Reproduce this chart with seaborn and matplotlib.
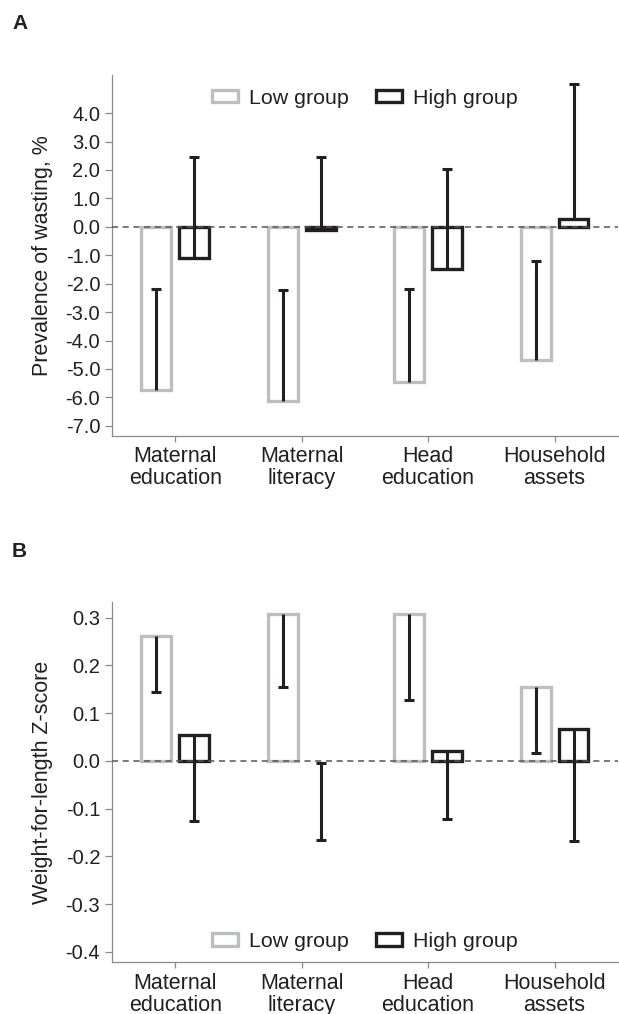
import matplotlib
matplotlib.use("Agg")
import matplotlib.pyplot as plt
from matplotlib.patches import Patch
from matplotlib.ticker import FormatStrFormatter
import pandas as pd
import seaborn as sns

# ---- data -------------------------------------------------------------
categories = ["Maternal\neducation", "Maternal\nliteracy",
              "Head\neducation", "Household\nassets"]
groups = ["Low group", "High group"]

# Panel A: prevalence of wasting, % (bar value and upper confidence limit)
wasting_low = [-5.75, -6.12, -5.45, -4.69]
wasting_high = [-1.10, -0.12, -1.50, 0.27]
wasting_low_ci = [-2.20, -2.23, -2.20, -1.21]
wasting_high_ci = [2.44, 2.46, 2.02, 5.01]
wasting_ticks = [-7.0, -6.0, -5.0, -4.0, -3.0, -2.0, -1.0,
                 0.0, 1.0, 2.0, 3.0, 4.0]

# Panel B: weight-for-length Z-score (bar value and lower confidence limit)
wlz_low = [0.262, 0.307, 0.307, 0.155]
wlz_high = [0.055, -0.004, 0.021, 0.066]
wlz_low_ci = [0.144, 0.154, 0.128, 0.017]
wlz_high_ci = [-0.126, -0.166, -0.122, -0.168]
wlz_ticks = [-0.4, -0.3, -0.2, -0.1, 0.0, 0.1, 0.2, 0.3]

# ---- style ------------------------------------------------------------
INK = "#231f20"
GREY_BAR = "#bcbec0"
AXIS_GREY = "#8a8a8a"
palette = {"Low group": GREY_BAR, "High group": INK}

sns.set_style("ticks")
plt.rcParams["font.family"] = ["Liberation Sans", "DejaVu Sans"]
plt.rcParams["axes.unicode_minus"] = False

fig = plt.figure(figsize=(6.19, 10.14), dpi=100)
ax_a = fig.add_axes([0.181, 0.5703, 0.817, 0.3557])
ax_b = fig.add_axes([0.181, 0.0510, 0.817, 0.3553])


def draw_panel(ax, low, high, low_ci, high_ci, ylim, ticks, ylabel, legend_y):
    df = pd.DataFrame({
        "category": categories * 2,
        "group": [groups[0]] * len(categories) + [groups[1]] * len(categories),
        "value": low + high,
    })
    sns.barplot(data=df, x="category", y="value", hue="group",
                order=categories, hue_order=groups, palette=palette,
                fill=False, width=0.6, gap=0.21, linewidth=2.4,
                errorbar=None, legend=False, ax=ax)

    ax.set_xlim(-0.5, len(categories) - 0.5)
    ax.set_ylim(*ylim)
    span = ylim[1] - ylim[0]

    # zero reference line
    ax.axhline(0, color="#555555", lw=1.1, ls=(0, (4, 3)), zorder=3)

    # one-sided confidence bars, starting at the bar end
    values = [v for pair in zip(low, high) for v in pair]
    limits = [c for pair in zip(low_ci, high_ci) for c in pair]
    bars = sorted(ax.patches, key=lambda p: p.get_x())
    for bar, v, c in zip(bars, values, limits):
        x = bar.get_x() + bar.get_width() / 2
        ax.vlines(x, v, c, color=INK, lw=2.2, zorder=4)
        ax.plot([x], [c], marker="_", ms=7.2, mew=2.2, color=INK, zorder=4)
        if abs(v) < 0.007 * span:
            # bar too short to render: show only the capped interval
            bar.set_linewidth(0)
            ax.plot([x], [v], marker="_", ms=7.2, mew=2.2, color=INK, zorder=4)

    ax.set_yticks(ticks)
    ax.yaxis.set_major_formatter(FormatStrFormatter("%.1f"))
    ax.set_xlabel("")
    ax.set_ylabel(ylabel, fontsize=15.5, color=INK, labelpad=9)

    for side in ("top", "right"):
        ax.spines[side].set_visible(False)
    for side in ("left", "bottom"):
        ax.spines[side].set_color(AXIS_GREY)
        ax.spines[side].set_linewidth(0.9)

    ax.tick_params(axis="y", color=AXIS_GREY, length=5, width=0.9,
                   labelcolor=INK, labelsize=14.5, pad=3.5)
    ax.tick_params(axis="x", color=AXIS_GREY, length=4.5, width=0.9,
                   labelcolor=INK, labelsize=15.5, pad=3)
    for lbl in ax.get_xticklabels():
        lbl.set_linespacing(1.05)
        lbl.set_multialignment("center")

    handles = [Patch(facecolor="white", edgecolor=palette[g], linewidth=2.4,
                     label=g) for g in groups]
    ax.legend(handles=handles, loc="center", bbox_to_anchor=(0.5, legend_y),
              ncol=2, frameon=False, fontsize=15.4, handlelength=1.2,
              handleheight=0.53, handletextpad=0.5, columnspacing=1.3,
              labelcolor=INK, borderaxespad=0)


draw_panel(ax_a, wasting_low, wasting_high, wasting_low_ci, wasting_high_ci,
           (-7.35, 5.34), wasting_ticks, "Prevalence of wasting, %", 0.936)
draw_panel(ax_b, wlz_low, wlz_high, wlz_low_ci, wlz_high_ci,
           (-0.422, 0.333), wlz_ticks, "Weight-for-length Z-score", 0.057)

fig.text(0.0194, 1 - 29 / 1014, "A", fontsize=15, fontweight="bold",
         color=INK, va="baseline")
fig.text(0.0194, 1 - 557 / 1014, "B", fontsize=15, fontweight="bold",
         color=INK, va="baseline")

fig.savefig("out.png", dpi=100)
